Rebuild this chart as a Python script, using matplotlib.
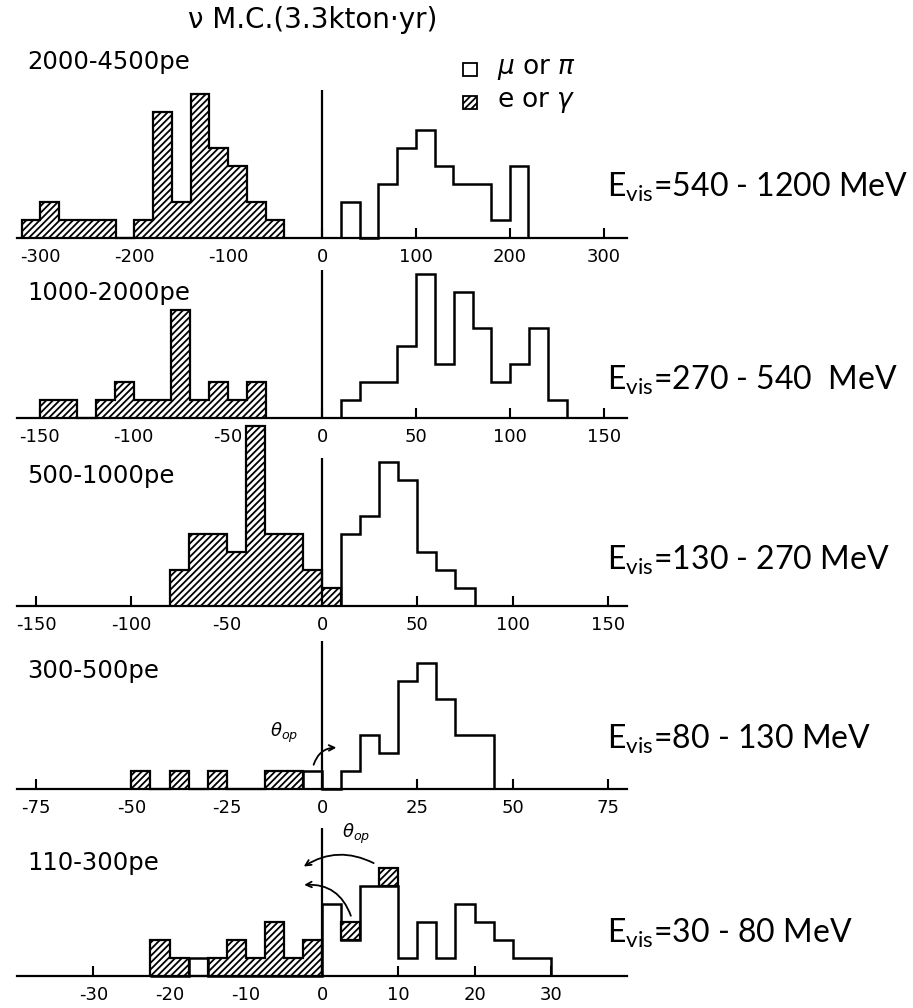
import numpy as np
import matplotlib.pyplot as plt
from matplotlib.patches import Rectangle

# %% data (counts per bin)
panel_labels = ['2000-4500pe', '1000-2000pe', '500-1000pe', '300-500pe', '110-300pe']
energy_labels = ['E$_{\\mathrm{vis}}$=540 - 1200 MeV',
                 'E$_{\\mathrm{vis}}$=270 - 540  MeV',
                 'E$_{\\mathrm{vis}}$=130 - 270 MeV',
                 'E$_{\\mathrm{vis}}$=80 - 130 MeV',
                 'E$_{\\mathrm{vis}}$=30 - 80 MeV']
x_half = [325, 162, 160, 80, 40]
ticks = [[-300, -200, -100, 0, 100, 200, 300],
         [-150, -100, -50, 0, 50, 100, 150],
         [-150, -100, -50, 0, 50, 100, 150],
         [-75, -50, -25, 0, 25, 50, 75],
         [-30, -20, -10, 0, 10, 20, 30]]

# e or gamma (hatched)
eg_edges1 = np.arange(-320, -39, 20)
eg_counts1 = [1, 2, 1, 1, 1, 0, 1, 7, 2, 8, 5, 4, 2, 1]
eg_edges2 = np.arange(-150, -29, 10)
eg_counts2 = [1, 1, 0, 1, 2, 1, 1, 6, 1, 2, 1, 2]
eg_edges3 = np.arange(-80, 11, 10)
eg_counts3 = [2, 4, 4, 3, 10, 4, 4, 2, 1]
eg_edges4 = np.arange(-50, -4, 5)
eg_counts4 = [1, 0, 1, 0, 1, 0, 0, 1, 1]
eg_edges5 = np.arange(-22.5, 0.1, 2.5)
eg_counts5 = [2, 1, 0, 1, 2, 1, 3, 1, 2]

# mu or pi (open)
mp_edges1 = np.arange(20, 221, 20)
mp_counts1 = [2, 0, 3, 5, 6, 4, 3, 3, 1, 4]
mp_edges2 = np.arange(10, 131, 10)
mp_counts2 = [1, 2, 2, 4, 8, 3, 7, 5, 2, 3, 5, 1]
mp_edges3 = np.arange(10, 81, 10)
mp_counts3 = [4, 5, 8, 7, 3, 2, 1]
mp_edges4 = np.arange(-5, 46, 5)
mp_counts4 = [1, 0, 1, 3, 2, 6, 7, 5, 3, 3]
mp_edges5 = np.arange(-22.5, 30.1, 2.5)
mp_counts5 = [0, 0, 1, 0, 0, 0, 0, 0, 0, 4, 2, 5, 5, 1, 3, 1, 4, 3, 2, 1, 1]

# e or gamma stacked on top of open bins in the lowest panel
eg_top_left5 = [2.5, 7.5]
eg_top_bottom5 = [2, 5]

eg_edges = [eg_edges1, eg_edges2, eg_edges3, eg_edges4, eg_edges5]
eg_counts = [eg_counts1, eg_counts2, eg_counts3, eg_counts4, eg_counts5]
mp_edges = [mp_edges1, mp_edges2, mp_edges3, mp_edges4, mp_edges5]
mp_counts = [mp_counts1, mp_counts2, mp_counts3, mp_counts4, mp_counts5]

# %% layout (pixels)
W, H = 913, 1008
baselines = [238, 418, 606, 789, 976]
label_y = [62, 293, 476, 671, 863]
energy_y = [197, 390, 570, 749, 943]
unit = 18.0
ytop = 8.2

plt.rcParams['hatch.linewidth'] = 1.3
plt.rcParams['axes.unicode_minus'] = False
plt.rcParams['mathtext.fontset'] = 'custom'
plt.rcParams['mathtext.rm'] = 'Lato'
plt.rcParams['mathtext.it'] = 'DejaVu Sans:italic'

fig = plt.figure(figsize=(W / 100, H / 100), dpi=100)
fig.patch.set_facecolor('white')

HATCH = '/////'
axes = []
for i in range(5):
    ax = fig.add_axes([17 / W, (H - baselines[i]) / H, 610 / W, ytop * unit / H])
    ax.set_xlim(-x_half[i], x_half[i])
    ax.set_ylim(0, ytop)
    ax.patch.set_alpha(0)
    for s in ['top', 'right', 'left']:
        ax.spines[s].set_visible(False)
    ax.spines['bottom'].set_linewidth(1.6)
    ax.set_yticks([])
    ax.set_xticks(ticks[i])
    ax.tick_params(axis='x', direction='in', length=7, width=1.5, pad=7, labelsize=13)

    ax.stairs(eg_counts[i], eg_edges[i], fill=True, facecolor='white', edgecolor='black',
              hatch=HATCH, linewidth=1.6, clip_on=False, zorder=2)
    ax.stairs(mp_counts[i], mp_edges[i], color='black', linewidth=1.8, clip_on=False, zorder=3)
    ax.axvline(0, color='black', linewidth=1.6, zorder=4)

    fig.text(27 / W, 1 - label_y[i] / H, panel_labels[i], fontsize=17.5, va='center')
    fig.text(607 / W, 1 - energy_y[i] / H, energy_labels[i], fontsize=23,
             family='Lato', va='baseline')
    axes.append(ax)

# stacked e/gamma boxes in the 110-300pe panel
ax5 = axes[4]
ax5.bar(eg_top_left5, [1, 1], width=2.5, bottom=eg_top_bottom5, align='edge',
        facecolor='white', edgecolor='black', hatch=HATCH, linewidth=1.6, zorder=5)

# theta_op annotations
ax4 = axes[3]
ax4.text(-10, 3.1, r'$\theta_{op}$', fontsize=13, ha='center', va='center')
ax4.annotate('', xy=(4.5, 2.3), xytext=(-2.4, 1.2),
             arrowprops=dict(arrowstyle='->', lw=1.3, connectionstyle='arc3,rad=-0.4'))
ax5.text(4.5, 7.9, r'$\theta_{op}$', fontsize=13, ha='center', va='center')
ax5.annotate('', xy=(-2.7, 6.0), xytext=(7.1, 6.2),
             arrowprops=dict(arrowstyle='->', lw=1.3, connectionstyle='arc3,rad=0.3'),
             annotation_clip=False)
ax5.annotate('', xy=(-2.7, 5.05), xytext=(3.9, 3.2),
             arrowprops=dict(arrowstyle='->', lw=1.3, connectionstyle='arc3,rad=0.4'),
             annotation_clip=False)

# title and legend
fig.text(313 / W, 1 - 20 / H, 'ν M.C.(3.3kton·yr)', fontsize=20, ha='center', va='center')
fig.patches.append(Rectangle((463 / W, 1 - 76 / H), 14 / W, 13 / H, transform=fig.transFigure,
                             facecolor='white', edgecolor='black', linewidth=1.3))
fig.patches.append(Rectangle((463 / W, 1 - 109 / H), 14 / W, 13 / H, transform=fig.transFigure,
                             facecolor='white', edgecolor='black', hatch=HATCH, linewidth=1.3))
fig.text(497 / W, 1 - 69 / H, r'$\mu$ or $\pi$', fontsize=19, va='center')
fig.text(497 / W, 1 - 102 / H, r'e or $\gamma$', fontsize=19, va='center')

plt.savefig('out.png', dpi=100)
